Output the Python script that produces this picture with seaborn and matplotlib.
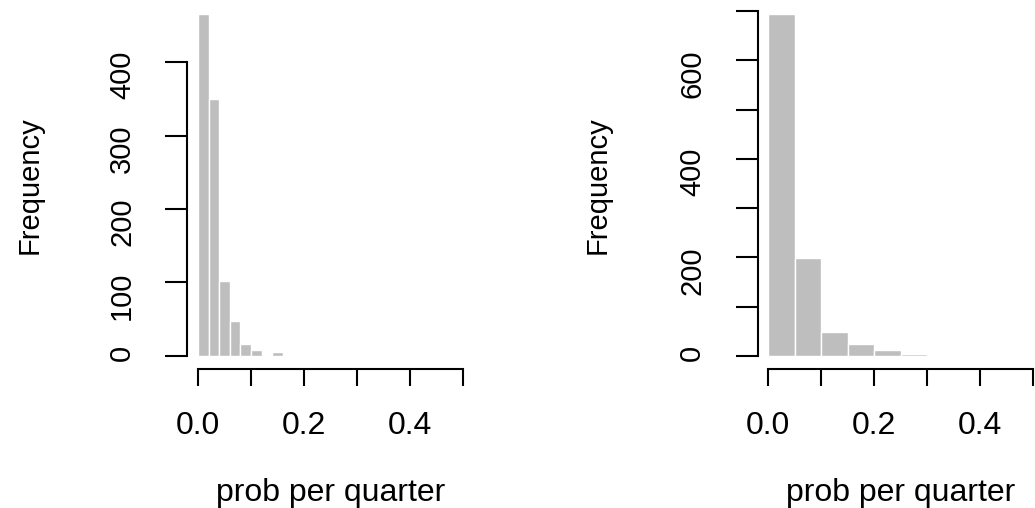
import numpy as np
import pandas as pd
import seaborn as sns
import matplotlib.pyplot as plt

# left histogram, bins of width 0.02
left_edges = [0.00, 0.02, 0.04, 0.06, 0.08, 0.10, 0.12, 0.14, 0.16]
left_counts = [466, 350, 102, 47, 16, 8, 0, 5]

# right histogram, bins of width 0.05
right_edges = [0.00, 0.05, 0.10, 0.15, 0.20, 0.25, 0.30]
right_counts = [695, 198, 48, 23, 12, 4]

x_ticks = [0.0, 0.1, 0.2, 0.3, 0.4, 0.5]
x_ticklabels = ['0.0', '', '0.2', '', '0.4', '']
left_yticks = [0, 100, 200, 300, 400]
left_yticklabels = ['0', '100', '200', '300', '400']
right_yticks = [0, 100, 200, 300, 400, 500, 600, 700]
right_yticklabels = ['0', '', '200', '', '400', '', '600', '']

sns.set_style('ticks')
plt.rcParams['font.family'] = ['Liberation Sans', 'DejaVu Sans']
plt.rcParams['text.color'] = 'black'
plt.rcParams['axes.labelcolor'] = 'black'

W, H = 1035, 508
fig = plt.figure(figsize=(W / 100, H / 100), dpi=100)


def panel(left_px, ylab_px, edges, counts, yticks, yticklabels):
    ax = fig.add_axes([left_px / W, (H - 369.4) / H, 286.2 / W, 369.4 / H])
    centers = [(a + b) / 2 for a, b in zip(edges[:-1], edges[1:])]
    df = pd.DataFrame({'prob': centers, 'count': counts})
    sns.histplot(data=df, x='prob', weights='count', bins=edges,
                 color='#BEBEBE', edgecolor='white', linewidth=1,
                 alpha=1, ax=ax)
    top = max(counts)
    ax.set_xlim(-0.02, 0.52)
    ax.set_ylim(-0.04 * top, 1.04 * top)
    ax.set_xticks(x_ticks)
    ax.set_xticklabels(x_ticklabels)
    ax.set_yticks(yticks)
    ax.set_yticklabels(yticklabels)
    for s in ['top', 'right']:
        ax.spines[s].set_visible(False)
    ax.spines['left'].set_bounds(0, yticks[-1])
    ax.spines['bottom'].set_bounds(0, 0.5)
    for s in ['left', 'bottom']:
        ax.spines[s].set_linewidth(1.5)
        ax.spines[s].set_color('black')
    ax.tick_params(axis='x', length=12, width=1.5, pad=18, labelsize=23,
                   colors='black')
    ax.tick_params(axis='y', length=16, width=1.5, pad=21, labelsize=21,
                   labelrotation=90, colors='black')
    ax.set_xlabel('prob per quarter', fontsize=23)
    ax.xaxis.set_label_coords(0.5, -0.295)
    ax.set_ylabel('Frequency', fontsize=21, va='center')
    ax.yaxis.set_label_coords((ylab_px - left_px) / 286.2, 0.5)
    return ax


panel(187.4, 30, left_edges, left_counts, left_yticks, left_yticklabels)
panel(757.7, 598, right_edges, right_counts, right_yticks, right_yticklabels)

fig.savefig('out.png', dpi=100)
